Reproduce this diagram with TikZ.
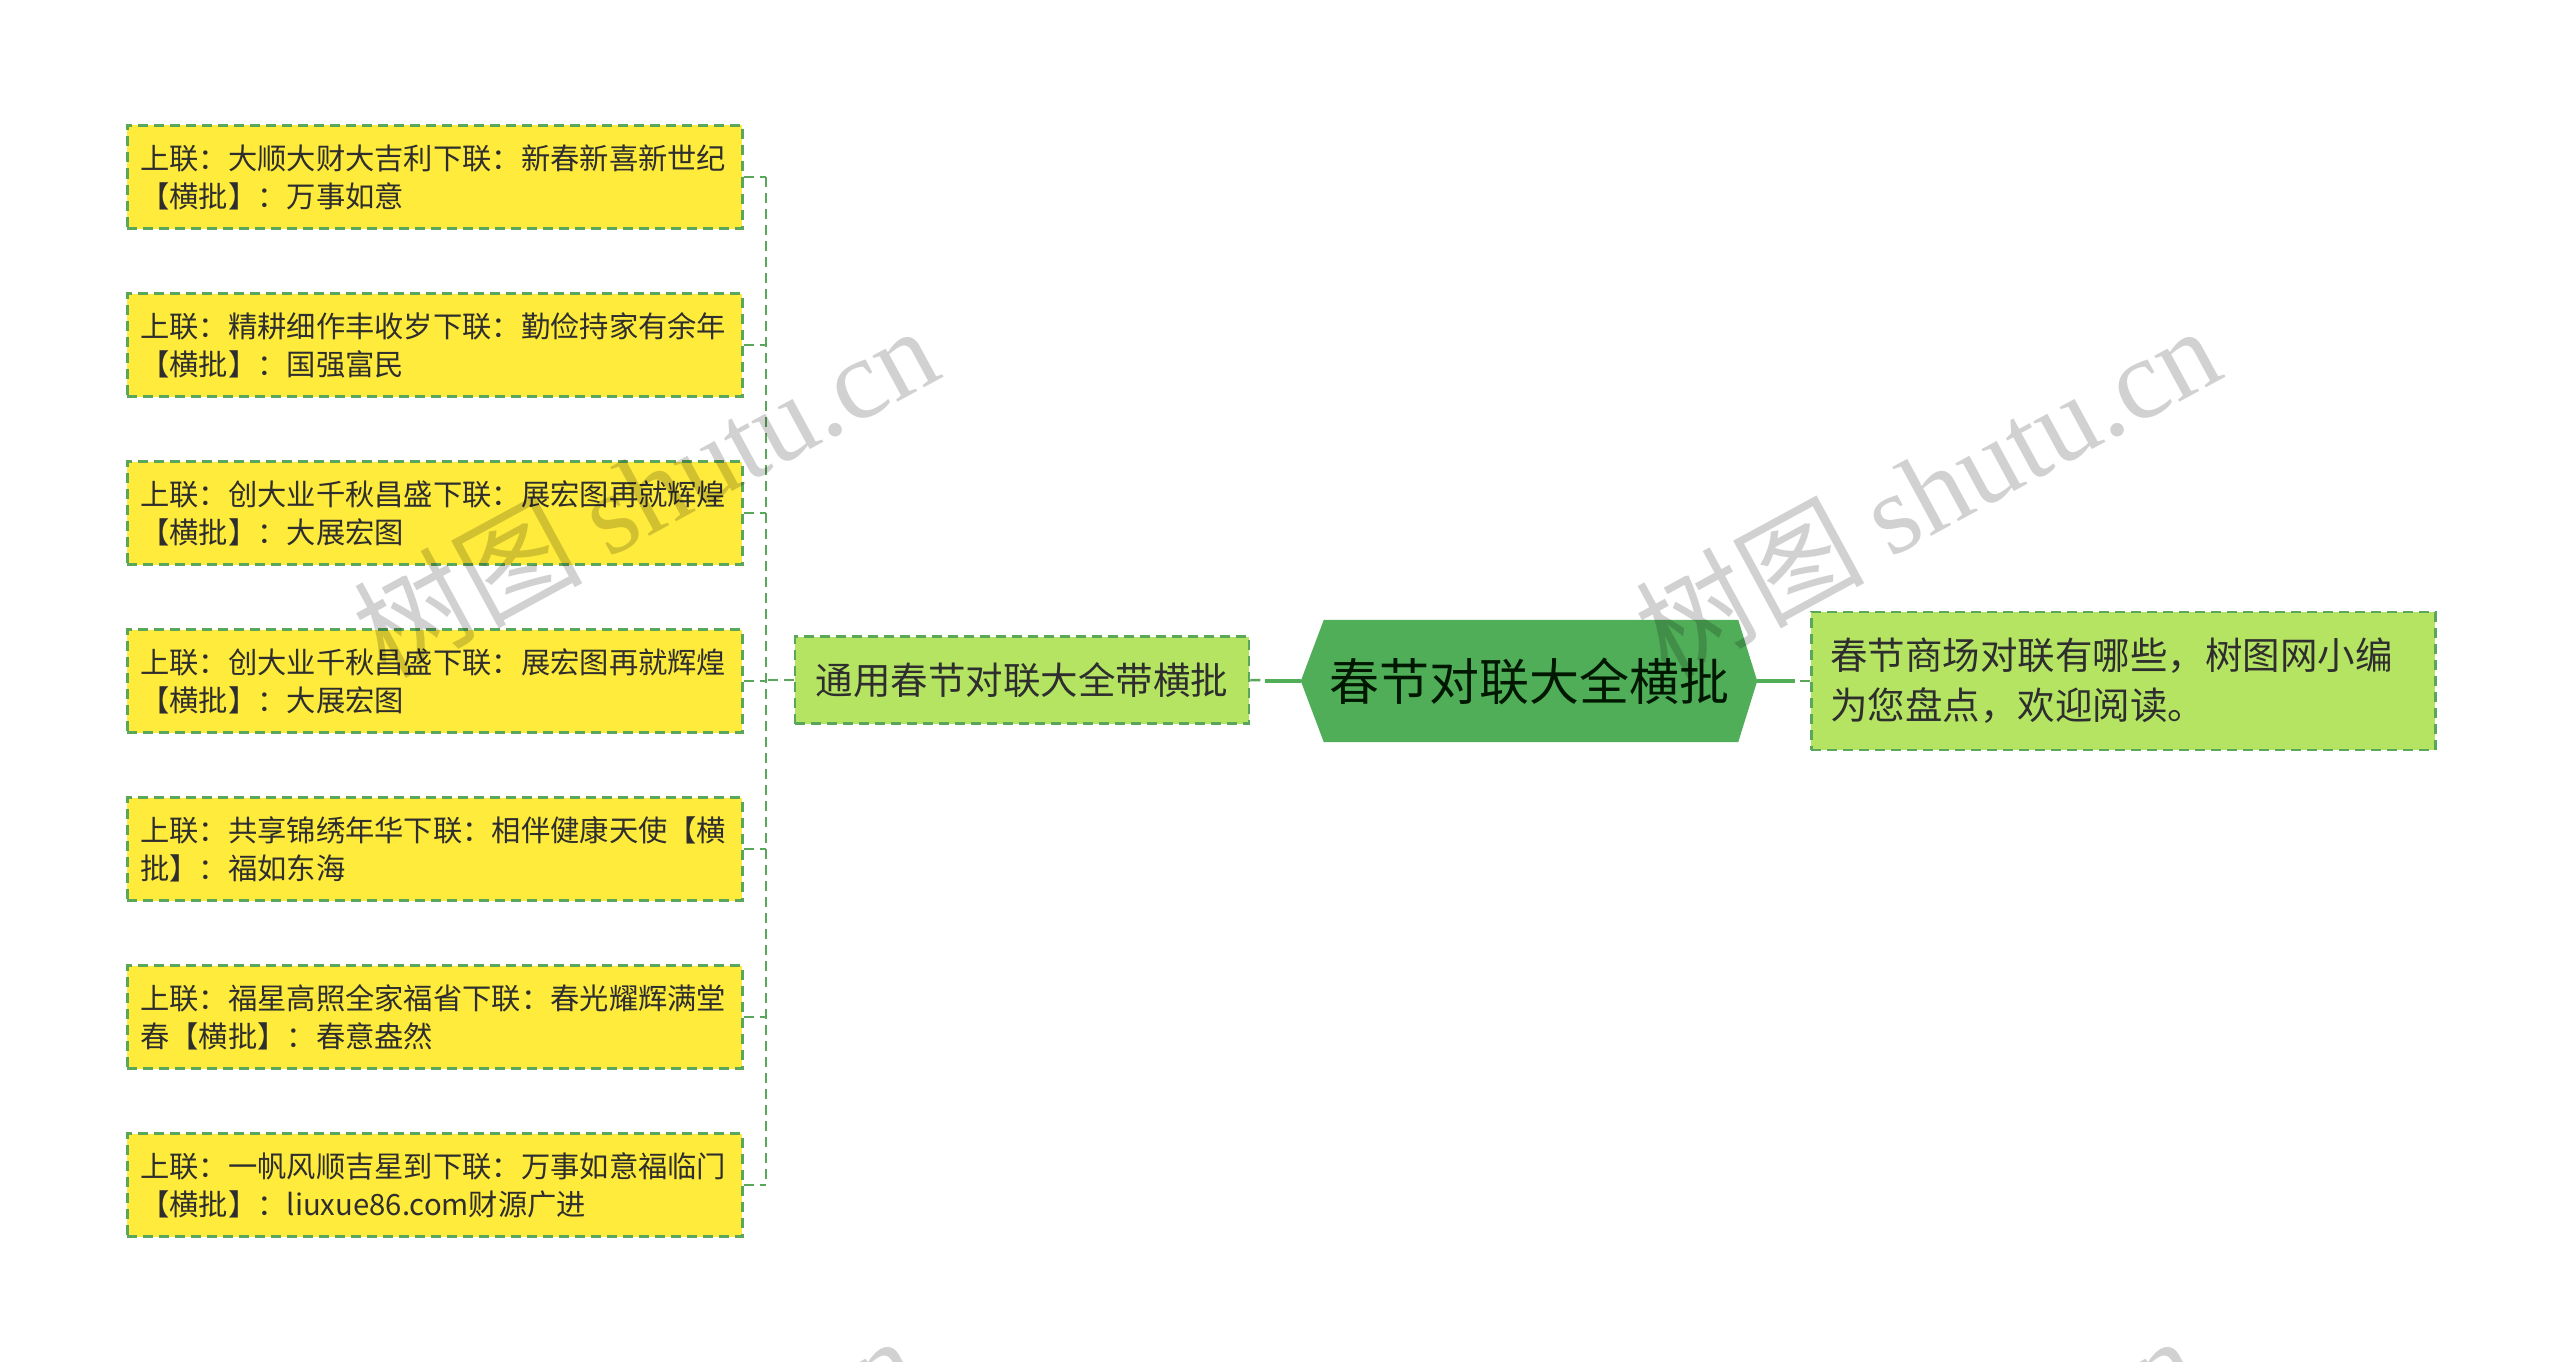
\documentclass[tikz,border=0pt]{standalone}
\usepackage{fontspec}
\setmainfont{Noto Sans CJK SC}
\newfontfamily\wmlatin{Liberation Serif}
\usetikzlibrary{calc}
\definecolor{yel}{HTML}{FFEB3B}
\definecolor{lgreen}{HTML}{B5E463}
\definecolor{hexgreen}{HTML}{50AE58}
\definecolor{bord}{HTML}{5AA65A}
\definecolor{txt}{HTML}{2E2E2E}
\begin{document}
\begin{tikzpicture}[x=1pt,y=-1pt,
  dashbox/.style={draw=bord, line width=2.5pt, dash pattern=on 10pt off 6pt},
  leaf/.style={dashbox, fill=yel, anchor=west, minimum width=615pt, minimum height=103pt,
    text width=589pt, inner xsep=13pt, align=left, text=txt,
    font=\fontsize{29.3}{38}\selectfont},
  midnode/.style={dashbox, fill=lgreen, minimum width=454pt, minimum height=87pt,
    inner xsep=18pt, text=txt, font=\fontsize{37.5}{44}\selectfont},
  rnode/.style={dashbox, fill=lgreen, anchor=west, minimum width=624pt, minimum height=138pt,
    text width=586pt, inner xsep=19pt, align=left, text=txt,
    font=\fontsize{37.5}{50}\selectfont},
  conn/.style={draw=bord, line width=2.5pt, dash pattern=on 10pt off 6pt},
  connsolid/.style={draw=hexgreen, line width=4pt},
  wm/.style={rotate=28.5, text=black, opacity=0.18, font=\fontsize{114}{114}\selectfont, inner sep=0pt}
]
\useasboundingbox (0,0) rectangle (2560,1362);
\fill[white] (0,0) rectangle (2560,1362);

% leaves
\node[leaf] (b1) at (126,177) {上联：大顺大财大吉利下联：新春新喜新世纪\\【横批】：万事如意};
\node[leaf] (b2) at (126,345) {上联：精耕细作丰收岁下联：勤俭持家有余年\\【横批】：国强富民};
\node[leaf] (b3) at (126,513) {上联：创大业千秋昌盛下联：展宏图再就辉煌\\【横批】：大展宏图};
\node[leaf] (b4) at (126,681) {上联：创大业千秋昌盛下联：展宏图再就辉煌\\【横批】：大展宏图};
\node[leaf] (b5) at (126,849) {上联：共享锦绣年华下联：相伴健康天使【横\\批】：福如东海};
\node[leaf] (b6) at (126,1017) {上联：福星高照全家福省下联：春光耀辉满堂\\春【横批】：春意盎然};
\node[leaf] (b7) at (126,1185) {上联：一帆风顺吉星到下联：万事如意福临门\\【横批】：liuxue86.com财源广进};

% middle
\node[midnode] (mid) at (1022,680) {通用春节对联大全带横批};

% central hexagon
\node[minimum width=456pt, minimum height=122pt, inner sep=0pt] (hex) at (1529,681) {};
\fill[hexgreen] (hex.west) -- ($(hex.north west)+(23,0)$) -- ($(hex.north east)+(-19,0)$)
  -- (hex.east) -- ($(hex.south east)+(-19,0)$) -- ($(hex.south west)+(23,0)$) -- cycle;
\node[text=black!85!green!60!black, font=\fontsize{50}{56}\selectfont] (hext) at (hex.center) {春节对联大全横批};

% right
\node[rnode] (rn) at (1810,681) {春节商场对联有哪些，树图网小编\\为您盘点，欢迎阅读。};

% connectors
\coordinate (jn) at (766,680);
\draw[conn] (mid.east) -- (hex.west);
\draw[connsolid] (hex.west) -- ++(-36,0);
\draw[conn] (rn.west) -- (hex.east);
\draw[connsolid] (hex.east) -- ++(38,0);
\draw[conn] (mid.west) -- (jn);
\draw[conn] (jn |- b1.east) -- (jn |- b7.east);
\foreach \b in {b1,b2,b3,b4,b5,b6,b7}{
  \draw[conn] (\b.east) -- (\b.east -| jn);
}

% watermarks
\begin{scope}
\clip (0,0) rectangle (2560,1362);
\node[wm] (wm1) at (645,490) {树图 {\wmlatin shutu.cn}};
\node[wm] (wm2) at (1927,490) {树图 {\wmlatin shutu.cn}};
\node[wm] (wm3) at (625,1500) {树图 {\wmlatin shutu.cn}};
\node[wm] (wm4) at (1905,1500) {树图 {\wmlatin shutu.cn}};
\end{scope}
\end{tikzpicture}
\end{document}
